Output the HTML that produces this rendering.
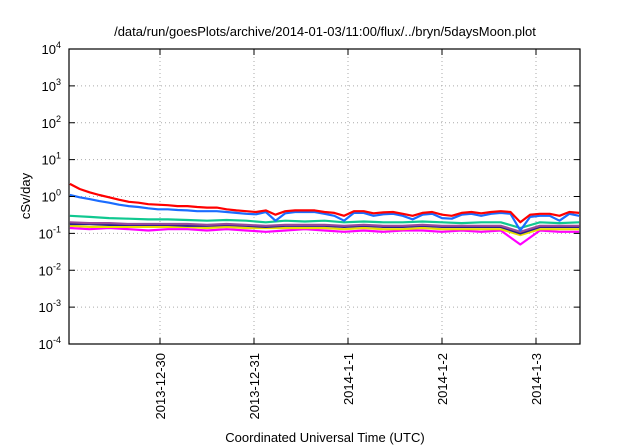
<!DOCTYPE html>
<html><head><meta charset="utf-8"><style>
body{margin:0;background:#fff}
svg{font-family:"Liberation Sans",sans-serif;display:block}
</style></head><body>
<svg id="chart" width="640" height="448">
<text x="325" y="36" font-size="13" text-anchor="middle">/data/run/goesPlots/archive/2014-01-03/11:00/flux/../bryn/5daysMoon.plot</text>
<text x="325" y="442" font-size="13" text-anchor="middle">Coordinated Universal Time (UTC)</text>
<text transform="translate(30,196) rotate(-90)" font-size="13" text-anchor="middle">cSv/day</text>
<g id="grid"></g><g id="series"></g><g id="axes"></g>
</svg>
<script>
const yExps=[-4,-3,-2,-1,0,1,2,3,4];
const xTickLabels=["2013-12-30","2013-12-31","2014-1-1","2014-1-2","2014-1-3"];
const xTickHours=[24,48,72,96,120];
const timesFine=[1,3.5,6,8.5,11,13.5,16,18.5,21,23.5,26,28.5,31,33.5,36,38.5,41,43.5,46,48.5,51,53.5,56,58.5,61,63.5,66,68.5,71,73.5,76,78.5,81,83.5,86,88.5,91,93.5,96,98.5,101,103.5,106,108.5,111,113.5,116,118.5,121,123.5,126,128.5,131];
const timesCoarse=[1,6,11,16,21,26,31,36,41,46,51,56,61,66,71,76,81,86,91,96,101,106,111,116,121,126,131];
const redVals=[2.2,1.6,1.3,1.1,0.95,0.82,0.72,0.68,0.62,0.6,0.58,0.55,0.55,0.52,0.5,0.5,0.45,0.42,0.4,0.38,0.42,0.32,0.4,0.42,0.42,0.42,0.38,0.36,0.3,0.4,0.4,0.35,0.37,0.38,0.34,0.3,0.36,0.38,0.32,0.3,0.36,0.38,0.35,0.38,0.4,0.38,0.2,0.32,0.34,0.34,0.3,0.38,0.36];
const blueVals=[1.1,0.95,0.85,0.75,0.68,0.6,0.55,0.52,0.48,0.45,0.45,0.43,0.42,0.4,0.4,0.4,0.38,0.36,0.34,0.33,0.38,0.22,0.35,0.38,0.38,0.38,0.34,0.3,0.22,0.36,0.36,0.3,0.33,0.34,0.3,0.24,0.32,0.34,0.26,0.25,0.32,0.34,0.3,0.34,0.36,0.34,0.12,0.28,0.3,0.3,0.22,0.34,0.3];
const greenVals=[0.3,0.28,0.26,0.25,0.24,0.24,0.23,0.22,0.23,0.22,0.2,0.22,0.21,0.22,0.2,0.21,0.2,0.2,0.21,0.2,0.19,0.2,0.2,0.14,0.2,0.19,0.2];
const purpleVals=[0.2,0.19,0.19,0.18,0.18,0.18,0.18,0.17,0.18,0.17,0.16,0.17,0.17,0.17,0.16,0.17,0.16,0.16,0.17,0.16,0.16,0.16,0.16,0.11,0.16,0.16,0.16];
const navyVals=[0.18,0.18,0.17,0.17,0.17,0.17,0.16,0.16,0.17,0.16,0.15,0.16,0.16,0.16,0.15,0.16,0.15,0.15,0.16,0.15,0.15,0.15,0.15,0.1,0.15,0.15,0.15];
const yellowVals=[0.16,0.15,0.15,0.15,0.15,0.15,0.15,0.14,0.15,0.14,0.14,0.14,0.14,0.14,0.13,0.14,0.13,0.13,0.14,0.13,0.13,0.13,0.13,0.09,0.13,0.13,0.13];
const magentaVals=[0.14,0.13,0.14,0.13,0.12,0.13,0.13,0.12,0.13,0.12,0.11,0.12,0.13,0.12,0.11,0.12,0.11,0.12,0.12,0.11,0.12,0.11,0.12,0.05,0.12,0.11,0.11];

const L=69,R=580,T=49,B=344,NS="http://www.w3.org/2000/svg";
const xS=h=>160+(h-24)*94/24;
const yS=v=>B-(Math.log10(v)+4)*(B-T)/8;
function mk(tag,parent,attrs){const e=document.createElementNS(NS,tag);for(const k in attrs)e.setAttribute(k,attrs[k]);document.getElementById(parent).appendChild(e);return e;}
yExps.forEach(p=>{
  const y=yS(Math.pow(10,p));
  if(p>-4&&p<4){const g=mk('line','grid',{x1:L,x2:R,y1:y,y2:y,stroke:'#aaa','stroke-dasharray':'1,3'});
  
  }
  const t=mk('text','axes',{x:L-8,y:y+5,'font-size':13,'text-anchor':'end'});
  
  
  t.innerHTML='10<tspan dy="-6" font-size="9">'+p+'</tspan>';
  [[L,L+6],[R-6,R]].forEach(a=>{const m=mk('line','axes',{x1:a[0],x2:a[1],y1:y,y2:y,stroke:'#000'});
  
  });
});
xTickHours.forEach((h,i)=>{
  const x=xS(h);
  const g=mk('line','grid',{x1:x,x2:x,y1:T,y2:B,stroke:'#aaa','stroke-dasharray':'1,3'});
  
  
  const t=mk('text','axes',{transform:`translate(${x+5},${B+9}) rotate(-90)`,'font-size':13,'text-anchor':'end'});
  
  
  t.textContent=xTickLabels[i];
  [[B-6,B],[T,T+6]].forEach(a=>{const m=mk('line','axes',{x1:x,x2:x,y1:a[0],y2:a[1],stroke:'#000'});
  
  });
});
const fr=mk('rect','axes',{x:L,y:T,width:R-L,height:B-T,fill:'none',stroke:'#000','stroke-width':1.2});


const list=[[timesCoarse,magentaVals,'#ff00ff','magenta-series'],[timesCoarse,yellowVals,'#e8e000','yellow-series'],[timesCoarse,navyVals,'#202090','navy-series'],[timesCoarse,purpleVals,'#9a4a9a','purple-series'],[timesCoarse,greenVals,'#10c890','green-series'],[timesFine,blueVals,'#1a6cff','blue-series'],[timesFine,redVals,'#ff0000','red-series']];
list.forEach(s=>{
  const d=s[0].map((h,i)=>(i?'L':'M')+Math.min(xS(h),R).toFixed(1)+','+yS(s[1][i]).toFixed(1)).join('');
  const p=mk('path','series',{d:d,fill:'none',stroke:s[2],'stroke-width':2.2,'stroke-linejoin':'round'});
  
  
});
</script>
</body></html>
